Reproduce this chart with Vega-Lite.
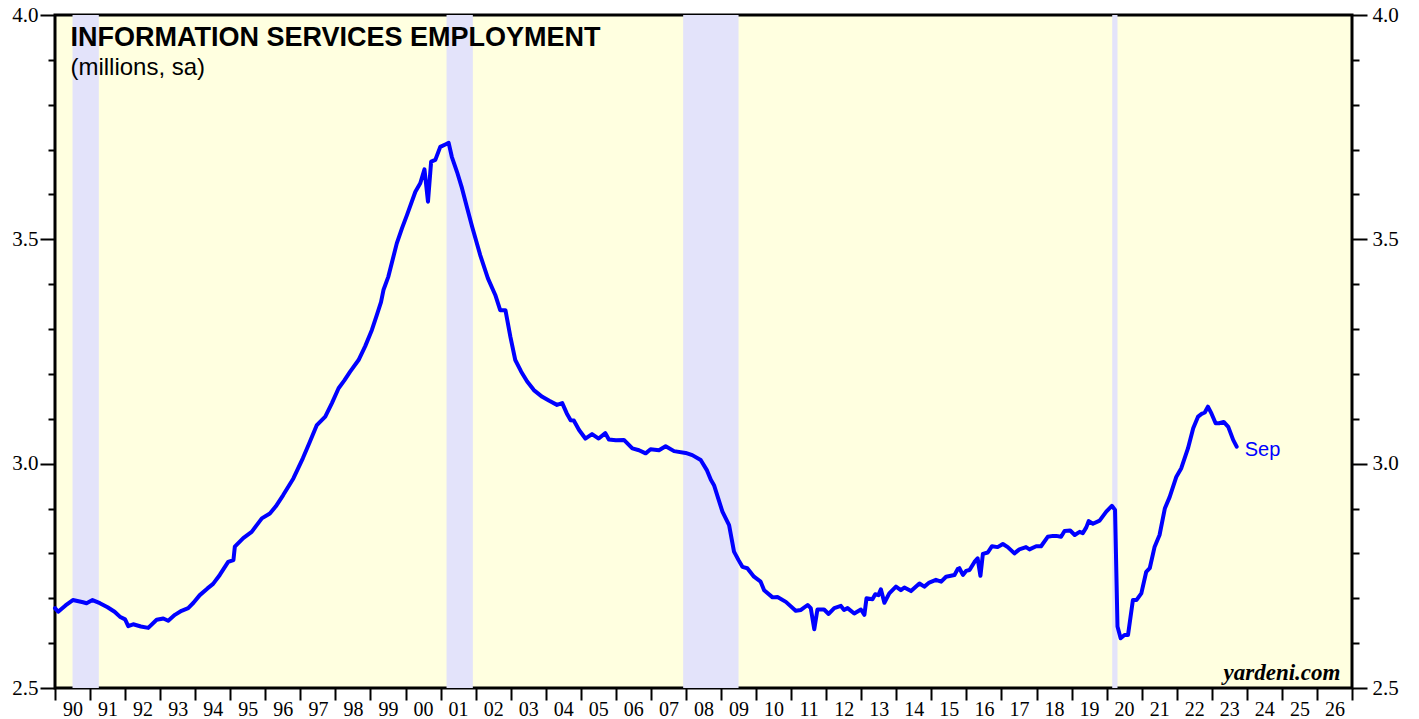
{
  "$schema": "https://vega.github.io/schema/vega-lite/v6.json",
  "autosize": {"type": "none"},
  "width": 1297,
  "height": 673,
  "padding": {"left": 55, "top": 15, "right": 67, "bottom": 31},
  "background": "#ffffff",
  "config": {
    "view": {"stroke": "#000000", "strokeWidth": 3, "fill": "#ffffe0"},
    "axis": {"grid": false, "domain": false, "title": null}
  },
  "datasets": {
    "emp": [
      {"t": 1990.00, "v": 2.678}, {"t": 1990.09, "v": 2.670}, {"t": 1990.30, "v": 2.684}, {"t": 1990.51, "v": 2.696},
      {"t": 1990.80, "v": 2.691}, {"t": 1990.90, "v": 2.689}, {"t": 1991.07, "v": 2.696}, {"t": 1991.28, "v": 2.689},
      {"t": 1991.50, "v": 2.680}, {"t": 1991.70, "v": 2.670}, {"t": 1991.85, "v": 2.659}, {"t": 1992.00, "v": 2.653},
      {"t": 1992.09, "v": 2.638}, {"t": 1992.23, "v": 2.642}, {"t": 1992.45, "v": 2.637}, {"t": 1992.66, "v": 2.634},
      {"t": 1992.90, "v": 2.652}, {"t": 1993.09, "v": 2.655}, {"t": 1993.23, "v": 2.650}, {"t": 1993.42, "v": 2.663},
      {"t": 1993.61, "v": 2.672}, {"t": 1993.80, "v": 2.678}, {"t": 1993.95, "v": 2.690}, {"t": 1994.13, "v": 2.707},
      {"t": 1994.35, "v": 2.722}, {"t": 1994.51, "v": 2.732}, {"t": 1994.70, "v": 2.752}, {"t": 1994.94, "v": 2.781},
      {"t": 1995.09, "v": 2.785}, {"t": 1995.13, "v": 2.815}, {"t": 1995.37, "v": 2.834}, {"t": 1995.61, "v": 2.848},
      {"t": 1995.90, "v": 2.878}, {"t": 1996.13, "v": 2.889}, {"t": 1996.30, "v": 2.905}, {"t": 1996.51, "v": 2.930},
      {"t": 1996.80, "v": 2.967}, {"t": 1997.07, "v": 3.012}, {"t": 1997.25, "v": 3.045}, {"t": 1997.47, "v": 3.086},
      {"t": 1997.71, "v": 3.105}, {"t": 1997.90, "v": 3.135}, {"t": 1998.09, "v": 3.168}, {"t": 1998.25, "v": 3.185},
      {"t": 1998.42, "v": 3.205}, {"t": 1998.66, "v": 3.231}, {"t": 1998.85, "v": 3.262}, {"t": 1999.04, "v": 3.298},
      {"t": 1999.18, "v": 3.331}, {"t": 1999.30, "v": 3.360}, {"t": 1999.37, "v": 3.387}, {"t": 1999.51, "v": 3.417},
      {"t": 1999.75, "v": 3.491}, {"t": 1999.90, "v": 3.525}, {"t": 2000.04, "v": 3.554}, {"t": 2000.28, "v": 3.606},
      {"t": 2000.42, "v": 3.625}, {"t": 2000.54, "v": 3.656}, {"t": 2000.64, "v": 3.584}, {"t": 2000.73, "v": 3.673},
      {"t": 2000.85, "v": 3.677}, {"t": 2000.99, "v": 3.706}, {"t": 2001.15, "v": 3.712}, {"t": 2001.23, "v": 3.715},
      {"t": 2001.32, "v": 3.684}, {"t": 2001.47, "v": 3.650}, {"t": 2001.61, "v": 3.614}, {"t": 2001.75, "v": 3.572},
      {"t": 2001.90, "v": 3.528}, {"t": 2002.13, "v": 3.465}, {"t": 2002.35, "v": 3.413}, {"t": 2002.56, "v": 3.376},
      {"t": 2002.70, "v": 3.342}, {"t": 2002.85, "v": 3.342}, {"t": 2002.99, "v": 3.283}, {"t": 2003.13, "v": 3.231},
      {"t": 2003.30, "v": 3.205}, {"t": 2003.47, "v": 3.183}, {"t": 2003.66, "v": 3.164}, {"t": 2003.90, "v": 3.149},
      {"t": 2004.10, "v": 3.140}, {"t": 2004.32, "v": 3.131}, {"t": 2004.47, "v": 3.135}, {"t": 2004.60, "v": 3.112},
      {"t": 2004.71, "v": 3.097}, {"t": 2004.80, "v": 3.096}, {"t": 2004.95, "v": 3.075}, {"t": 2005.13, "v": 3.056},
      {"t": 2005.32, "v": 3.066}, {"t": 2005.51, "v": 3.056}, {"t": 2005.70, "v": 3.068}, {"t": 2005.80, "v": 3.054},
      {"t": 2006.00, "v": 3.052}, {"t": 2006.23, "v": 3.053}, {"t": 2006.47, "v": 3.034}, {"t": 2006.66, "v": 3.030},
      {"t": 2006.85, "v": 3.023}, {"t": 2006.99, "v": 3.032}, {"t": 2007.23, "v": 3.030}, {"t": 2007.42, "v": 3.039},
      {"t": 2007.66, "v": 3.028}, {"t": 2007.99, "v": 3.024}, {"t": 2008.18, "v": 3.019}, {"t": 2008.42, "v": 3.008},
      {"t": 2008.60, "v": 2.985}, {"t": 2008.71, "v": 2.964}, {"t": 2008.80, "v": 2.952}, {"t": 2009.04, "v": 2.893},
      {"t": 2009.23, "v": 2.863}, {"t": 2009.37, "v": 2.804}, {"t": 2009.50, "v": 2.785}, {"t": 2009.61, "v": 2.770},
      {"t": 2009.75, "v": 2.767}, {"t": 2009.94, "v": 2.748}, {"t": 2010.13, "v": 2.737}, {"t": 2010.23, "v": 2.718},
      {"t": 2010.47, "v": 2.702}, {"t": 2010.61, "v": 2.703}, {"t": 2010.85, "v": 2.692}, {"t": 2011.13, "v": 2.672},
      {"t": 2011.28, "v": 2.674}, {"t": 2011.47, "v": 2.685}, {"t": 2011.56, "v": 2.678}, {"t": 2011.66, "v": 2.631},
      {"t": 2011.75, "v": 2.675}, {"t": 2011.94, "v": 2.675}, {"t": 2012.07, "v": 2.665}, {"t": 2012.23, "v": 2.678},
      {"t": 2012.42, "v": 2.683}, {"t": 2012.51, "v": 2.674}, {"t": 2012.61, "v": 2.678}, {"t": 2012.80, "v": 2.666},
      {"t": 2012.99, "v": 2.675}, {"t": 2013.09, "v": 2.663}, {"t": 2013.15, "v": 2.700}, {"t": 2013.32, "v": 2.698},
      {"t": 2013.40, "v": 2.709}, {"t": 2013.49, "v": 2.707}, {"t": 2013.56, "v": 2.720}, {"t": 2013.66, "v": 2.690},
      {"t": 2013.80, "v": 2.711}, {"t": 2013.99, "v": 2.726}, {"t": 2014.13, "v": 2.718}, {"t": 2014.23, "v": 2.724},
      {"t": 2014.42, "v": 2.716}, {"t": 2014.66, "v": 2.733}, {"t": 2014.80, "v": 2.726}, {"t": 2014.94, "v": 2.735},
      {"t": 2015.13, "v": 2.741}, {"t": 2015.28, "v": 2.737}, {"t": 2015.42, "v": 2.748}, {"t": 2015.66, "v": 2.752},
      {"t": 2015.75, "v": 2.765}, {"t": 2015.80, "v": 2.767}, {"t": 2015.90, "v": 2.752}, {"t": 2015.99, "v": 2.761},
      {"t": 2016.09, "v": 2.763}, {"t": 2016.23, "v": 2.781}, {"t": 2016.32, "v": 2.789}, {"t": 2016.40, "v": 2.750},
      {"t": 2016.47, "v": 2.799}, {"t": 2016.61, "v": 2.802}, {"t": 2016.73, "v": 2.816}, {"t": 2016.89, "v": 2.814},
      {"t": 2017.04, "v": 2.821}, {"t": 2017.18, "v": 2.814}, {"t": 2017.37, "v": 2.800}, {"t": 2017.51, "v": 2.809},
      {"t": 2017.70, "v": 2.814}, {"t": 2017.80, "v": 2.809}, {"t": 2017.99, "v": 2.816}, {"t": 2018.13, "v": 2.816},
      {"t": 2018.32, "v": 2.837}, {"t": 2018.47, "v": 2.839}, {"t": 2018.56, "v": 2.839}, {"t": 2018.70, "v": 2.837},
      {"t": 2018.80, "v": 2.850}, {"t": 2018.96, "v": 2.851}, {"t": 2019.09, "v": 2.841}, {"t": 2019.23, "v": 2.848},
      {"t": 2019.32, "v": 2.845}, {"t": 2019.42, "v": 2.858}, {"t": 2019.49, "v": 2.872}, {"t": 2019.61, "v": 2.866},
      {"t": 2019.80, "v": 2.873}, {"t": 2019.99, "v": 2.893}, {"t": 2020.15, "v": 2.906}, {"t": 2020.24, "v": 2.897},
      {"t": 2020.31, "v": 2.637}, {"t": 2020.40, "v": 2.611}, {"t": 2020.51, "v": 2.618}, {"t": 2020.61, "v": 2.618},
      {"t": 2020.75, "v": 2.696}, {"t": 2020.85, "v": 2.696}, {"t": 2020.99, "v": 2.711}, {"t": 2021.13, "v": 2.759},
      {"t": 2021.23, "v": 2.767}, {"t": 2021.37, "v": 2.815}, {"t": 2021.51, "v": 2.841}, {"t": 2021.66, "v": 2.900},
      {"t": 2021.80, "v": 2.926}, {"t": 2021.99, "v": 2.971}, {"t": 2022.13, "v": 2.990}, {"t": 2022.32, "v": 3.034},
      {"t": 2022.47, "v": 3.079}, {"t": 2022.61, "v": 3.105}, {"t": 2022.71, "v": 3.111}, {"t": 2022.80, "v": 3.114},
      {"t": 2022.89, "v": 3.127}, {"t": 2022.99, "v": 3.112}, {"t": 2023.11, "v": 3.090}, {"t": 2023.21, "v": 3.090},
      {"t": 2023.34, "v": 3.093}, {"t": 2023.47, "v": 3.082}, {"t": 2023.61, "v": 3.053}, {"t": 2023.71, "v": 3.038, "label": "Sep"}
    ],
    "recessions": [
      {"start": 1990.50, "end": 1991.25},
      {"start": 2001.17, "end": 2001.92},
      {"start": 2007.92, "end": 2009.50},
      {"start": 2020.16, "end": 2020.31}
    ],
    "notes": [
      {"title": "INFORMATION SERVICES EMPLOYMENT", "subtitle": "(millions, sa)", "source": "yardeni.com"}
    ]
  },
  "resolve": {"axis": {"x": "independent", "y": "independent"}},
  "layer": [
    {
      "data": {"name": "recessions"},
      "mark": {"type": "rect", "color": "#e3e3fa"},
      "encoding": {
        "x": {
          "field": "start", "type": "quantitative",
          "scale": {"domain": [1990, 2027], "nice": false, "zero": false},
          "axis": {
            "orient": "bottom",
            "values": [1990,1991,1992,1993,1994,1995,1996,1997,1998,1999,2000,2001,2002,2003,2004,2005,2006,2007,2008,2009,2010,2011,2012,2013,2014,2015,2016,2017,2018,2019,2020,2021,2022,2023,2024,2025,2026,2027],
            "labelExpr": "datum.value >= 2027 ? '' : substring(toString(datum.value), 2, 4)",
            "labelOffset": 17.5,
            "labelOverlap": false,
            "labelFlush": false,
            "labelBound": false,
            "labelFont": "Liberation Serif",
            "labelFontSize": 20,
            "labelColor": "#000000",
            "labelBaseline": "top",
            "labelPadding": -1,
            "tickSize": 12,
            "tickWidth": 2,
            "tickColor": "#000000"
          }
        },
        "x2": {"field": "end"}
      }
    },
    {
      "data": {"name": "emp"},
      "mark": {"type": "line", "color": "#0000ff", "strokeWidth": 4, "strokeJoin": "round", "strokeCap": "round"},
      "encoding": {
        "x": {"field": "t", "type": "quantitative", "axis": null},
        "y": {
          "field": "v", "type": "quantitative",
          "scale": {"domain": [2.5, 4.0], "nice": false, "zero": false},
          "axis": {
            "orient": "left",
            "values": [2.5,2.6,2.7,2.8,2.9,3.0,3.1,3.2,3.3,3.4,3.5,3.6,3.7,3.8,3.9,4.0],
            "labelExpr": "abs(datum.value*2 - round(datum.value*2)) < 0.001 ? format(datum.value, '.1f') : ''",
            "tickSize": {"condition": {"test": "abs(datum.value*2 - round(datum.value*2)) < 0.001", "value": 15}, "value": 7},
            "tickWidth": 2,
            "tickColor": "#000000",
            "labelFont": "Liberation Serif",
            "labelFontSize": 21,
            "labelColor": "#000000",
            "labelPadding": 2,
            "labelOverlap": false,
            "labelFlush": false,
            "labelBound": false
          }
        }
      }
    },
    {
      "data": {"name": "emp"},
      "transform": [{"filter": "datum.label != null"}],
      "mark": {"type": "text", "color": "#0000ff", "font": "Liberation Sans", "fontSize": 20, "align": "left", "baseline": "middle", "dx": 8, "dy": 3},
      "encoding": {
        "x": {"field": "t", "type": "quantitative", "axis": null},
        "y": {
          "field": "v", "type": "quantitative",
          "axis": {
            "orient": "right",
            "values": [2.5,2.6,2.7,2.8,2.9,3.0,3.1,3.2,3.3,3.4,3.5,3.6,3.7,3.8,3.9,4.0],
            "labelExpr": "abs(datum.value*2 - round(datum.value*2)) < 0.001 ? format(datum.value, '.1f') : ''",
            "tickSize": {"condition": {"test": "abs(datum.value*2 - round(datum.value*2)) < 0.001", "value": 15}, "value": 7},
            "tickWidth": 2,
            "tickColor": "#000000",
            "labelFont": "Liberation Serif",
            "labelFontSize": 21,
            "labelColor": "#000000",
            "labelPadding": 5,
            "labelOverlap": false,
            "labelFlush": false,
            "labelBound": false
          }
        },
        "text": {"field": "label"}
      }
    },
    {
      "data": {"name": "notes"},
      "mark": {"type": "text", "font": "Liberation Sans", "fontWeight": "bold", "fontSize": 27, "align": "left", "baseline": "alphabetic", "color": "#000000"},
      "encoding": {
        "x": {"datum": 1990.44, "type": "quantitative", "axis": null},
        "y": {"datum": 3.931, "type": "quantitative", "axis": null},
        "text": {"field": "title"}
      }
    },
    {
      "data": {"name": "notes"},
      "mark": {"type": "text", "font": "Liberation Sans", "fontSize": 24, "align": "left", "baseline": "alphabetic", "color": "#000000"},
      "encoding": {
        "x": {"datum": 1990.44, "type": "quantitative", "axis": null},
        "y": {"datum": 3.866, "type": "quantitative", "axis": null},
        "text": {"field": "subtitle"}
      }
    },
    {
      "data": {"name": "notes"},
      "mark": {"type": "text", "font": "Liberation Serif", "fontWeight": "bold", "fontStyle": "italic", "fontSize": 23, "align": "right", "baseline": "alphabetic", "color": "#000000"},
      "encoding": {
        "x": {"datum": 2026.67, "type": "quantitative", "axis": null},
        "y": {"datum": 2.518, "type": "quantitative", "axis": null},
        "text": {"field": "source"}
      }
    }
  ]
}
